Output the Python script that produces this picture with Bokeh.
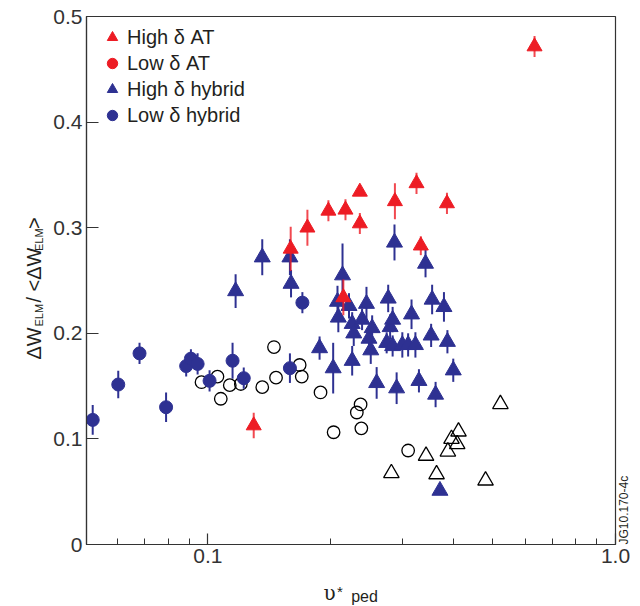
import math
from bokeh.plotting import figure
from bokeh.layouts import row, column
from bokeh.models import (ColumnDataSource, FixedTicker, Label, Legend,
                          LegendItem, LinearAxis, Range1d)
from bokeh.embed import file_html
from bokeh.resources import INLINE

# ---------------- data ----------------
# High delta AT (red triangles)
hi_at_x = [0.1296, 0.1597, 0.1755, 0.1976, 0.2176, 0.215, 0.236, 0.236,
           0.2877, 0.325, 0.333, 0.386, 0.633]
hi_at_y = [0.1127, 0.280, 0.300, 0.316, 0.317, 0.234, 0.334, 0.304,
           0.325, 0.342, 0.283, 0.323, 0.4716]
hi_at_err = [0.012, 0.021, 0.017, 0.010, 0.010, 0.017, 0.003, 0.010,
             0.017, 0.010, 0.009, 0.010, 0.010]

# Low delta AT (red circles) - no points shown in the chart
lo_at_x = [float("nan")]
lo_at_y = [float("nan")]

# High delta hybrid (blue triangles)
hi_hy_x = [0.117, 0.136, 0.159, 0.160, 0.188, 0.203, 0.208, 0.209, 0.214,
           0.222, 0.226, 0.228, 0.226, 0.239, 0.245, 0.2485, 0.251, 0.253,
           0.2595, 0.2746, 0.277, 0.280, 0.284, 0.284, 0.287, 0.2905, 0.300,
           0.310, 0.316, 0.323, 0.3295, 0.342, 0.353, 0.355, 0.362, 0.371,
           0.3795, 0.387, 0.400]
hi_hy_y = [0.240, 0.272, 0.272, 0.247, 0.186, 0.167, 0.230, 0.215, 0.255,
           0.226, 0.209, 0.200, 0.174, 0.213, 0.228, 0.195, 0.184, 0.205,
           0.153, 0.191, 0.233, 0.206, 0.213, 0.188, 0.286, 0.148, 0.189,
           0.189, 0.218, 0.189, 0.155, 0.266, 0.198, 0.232, 0.142, 0.051,
           0.225, 0.192, 0.165]
hi_hy_err = [0.016, 0.017, 0.017, 0.013, 0.011, 0.024, 0.015, 0.014, 0.030,
             0.012, 0.011, 0.012, 0.014, 0.010, 0.016, 0.012, 0.013, 0.012,
             0.015, 0.010, 0.013, 0.012, 0.012, 0.010, 0.017, 0.015, 0.012,
             0.011, 0.014, 0.012, 0.011, 0.013, 0.011, 0.014, 0.012, 0.0,
             0.014, 0.011, 0.011]

# Low delta hybrid (blue circles)
lo_hy_x = [0.0522, 0.0603, 0.068, 0.079, 0.0885, 0.0909, 0.0944, 0.101,
           0.115, 0.1225, 0.159, 0.1706]
lo_hy_y = [0.118, 0.1515, 0.181, 0.130, 0.169, 0.176, 0.171, 0.155,
           0.174, 0.1575, 0.167, 0.229]
lo_hy_err = [0.014, 0.013, 0.010, 0.014, 0.010, 0.009, 0.010, 0.010,
             0.017, 0.010, 0.014, 0.010]

# other data (open symbols)
open_c_x = [0.0965, 0.1056, 0.1076, 0.1132, 0.1205, 0.136, 0.1453, 0.147,
            0.168, 0.170, 0.189, 0.2035, 0.232, 0.237, 0.238, 0.31]
open_c_y = [0.1537, 0.159, 0.138, 0.1509, 0.152, 0.149, 0.187, 0.158,
            0.170, 0.159, 0.144, 0.1063, 0.125, 0.1326, 0.110, 0.089]
open_t_x = [0.282, 0.343, 0.364, 0.388, 0.396, 0.409, 0.412, 0.480, 0.522]
open_t_y = [0.0675, 0.084, 0.0665, 0.088, 0.100, 0.095, 0.107, 0.0606, 0.133]

y_ticks = [0, 0.1, 0.2, 0.3, 0.4, 0.5]
y_tick_labels = ["0", "0.1", "0.2", "0.3", "0.4", "0.5"]
x_ticks = [0.1, 1.0]
x_tick_labels = ["0.1", "1.0"]
x_minor = [0.06, 0.07, 0.08, 0.09, 0.2, 0.3, 0.4, 0.5, 0.6, 0.7, 0.8, 0.9]
figure_id = "JG10.170-4c"

RED = "#ED1C24"
BLUE = "#2E3192"
INK = "#231F20"
AX = "#333333"
FONT = "Liberation Sans"

W, H = 640, 606
LW = 44          # width of left strip (y title)
BH = 32          # height of bottom strip (x title)
MW, MH = W - LW, H - BH


def err_src(xs, ys, es):
    return ColumnDataSource(dict(x=xs, y=ys,
                                 lo=[y - e for y, e in zip(ys, es)],
                                 hi=[y + e for y, e in zip(ys, es)]))


# ---------------- main plot ----------------
p = figure(width=MW, height=MH, x_axis_type="log",
           x_range=Range1d(0.0504, 1.0), y_range=Range1d(0, 0.5),
           output_backend="svg", toolbar_location=None,
           min_border_left=86 - LW, min_border_right=25,
           min_border_top=16, min_border_bottom=MH - 544)
p.xgrid.visible = False
p.ygrid.visible = False
p.outline_line_color = AX
p.outline_line_width = 1.2
p.background_fill_color = "white"
p.border_fill_color = "white"

p.xaxis.ticker = FixedTicker(ticks=x_ticks, minor_ticks=x_minor)
p.xaxis.major_label_overrides = {t: l for t, l in zip(x_ticks, x_tick_labels)}
p.yaxis.ticker = FixedTicker(ticks=y_ticks, minor_ticks=[])
p.yaxis.major_label_overrides = {t: l for t, l in zip(y_ticks, y_tick_labels)}
for ax in (p.xaxis, p.yaxis):
    ax.axis_line_color = AX
    ax.axis_line_width = 1.2
    ax.major_tick_line_color = AX
    ax.major_tick_line_width = 1.2
    ax.minor_tick_line_color = AX
    ax.minor_tick_line_width = 1.0
    ax.major_tick_out = 0
    ax.minor_tick_out = 0
    ax.major_label_text_font = FONT
    ax.major_label_text_font_size = "21px"
    ax.major_label_text_color = AX
p.yaxis.major_tick_in = 12
p.xaxis.major_tick_in = 11
p.xaxis.minor_tick_in = 6
p.yaxis.major_label_standoff = 4
p.xaxis.major_label_standoff = 4

# figure id along the lower right edge: a bare right axis whose single
# tick label (at the bottom of the frame) reads upward
id_axis = LinearAxis(ticker=FixedTicker(ticks=[y_ticks[0]], minor_ticks=[]),
                     major_label_overrides={y_ticks[0]: figure_id},
                     major_label_orientation=math.pi / 2,
                     major_label_standoff=8,
                     major_label_text_font=FONT,
                     major_label_text_font_size="12px",
                     major_label_text_color=INK,
                     axis_line_color=None, major_tick_line_color=None,
                     minor_tick_line_color=None, major_tick_out=0,
                     minor_tick_out=0, major_tick_in=0, minor_tick_in=0)
p.add_layout(id_axis, "right")

# open symbols
p.scatter(open_c_x, open_c_y, marker="circle", size=12.5, fill_color=None,
          line_color="black", line_width=1.3)
p.scatter(open_t_x, open_t_y, marker="triangle", size=15.5, fill_color=None,
          line_color="black", line_width=1.3)

# hybrid
s_lh = err_src(lo_hy_x, lo_hy_y, lo_hy_err)
p.segment(x0="x", y0="lo", x1="x", y1="hi", source=s_lh, line_color=BLUE,
          line_width=2)
r_lh = p.scatter("x", "y", source=s_lh, marker="circle", size=13,
                 fill_color=BLUE, line_color=BLUE)
s_hh = err_src(hi_hy_x, hi_hy_y, hi_hy_err)
p.segment(x0="x", y0="lo", x1="x", y1="hi", source=s_hh, line_color=BLUE,
          line_width=2)
r_hh = p.scatter("x", "y", source=s_hh, marker="triangle", size=16,
                 fill_color=BLUE, line_color=BLUE)

# AT
s_ha = err_src(hi_at_x, hi_at_y, hi_at_err)
p.segment(x0="x", y0="lo", x1="x", y1="hi", source=s_ha, line_color=RED,
          line_width=2, line_alpha=0.8)
r_ha = p.scatter("x", "y", source=s_ha, marker="triangle", size=15,
                 fill_color=RED, line_color=RED)
r_la = p.scatter(lo_at_x, lo_at_y, marker="circle", size=12,
                 fill_color=RED, line_color=RED)

legend = Legend(items=[
    LegendItem(label="High \u03b4 AT", renderers=[r_ha]),
    LegendItem(label="Low \u03b4 AT", renderers=[r_la]),
    LegendItem(label="High \u03b4 hybrid", renderers=[r_hh]),
    LegendItem(label="Low \u03b4 hybrid", renderers=[r_lh]),
], location=(11, 416), padding=0, margin=0, spacing=0,
    glyph_width=30, glyph_height=26, label_height=20, label_standoff=0,
    label_text_font=FONT, label_text_font_size="20px",
    label_text_color=INK, background_fill_alpha=0, border_line_color=None)
p.add_layout(legend)


# ---------------- title strips ----------------
def strip(w, h, y_top, y_bottom):
    s = figure(width=w, height=h, x_range=Range1d(0, w),
               y_range=Range1d(y_bottom, y_top), x_axis_location=None,
               y_axis_location=None, output_backend="svg",
               toolbar_location=None, min_border=0)
    s.grid.visible = False
    s.outline_line_color = None
    s.background_fill_color = "white"
    s.border_fill_color = "white"
    return s


def lab(fig, text, x, y, size, angle=0.0, font=FONT):
    fig.add_layout(Label(x=x, y=y, text=text, angle=angle, text_font=font,
                         text_font_size=size, text_color=INK,
                         text_align="left", text_baseline="alphabetic"))


V = math.pi / 2
left = strip(LW, MH, 0, MH)
# y axis title: Delta W_ELM / <Delta W_ELM>
lab(left, "\u0394W", 33.5, 373, "20px", V)
lab(left, "ELM", 38.5, 337, "11px", V)
lab(left, "/", 33.5, 311, "20px", V)
lab(left, "<\u0394W", 33.5, 299, "20px", V)
lab(left, "ELM", 38.5, 255, "11px", V)
lab(left, ">", 33.5, 231, "20px", V)

bottom = strip(W, BH, MH, H)
# x axis title: nu*_ped
lab(bottom, "\u03c5", 323, 592, "20px", font="DejaVu Serif")
lab(bottom, "*", 336.5, 590.5, "15px")
lab(bottom, "ped", 350.7, 596, "16px")

layout = column(row(left, p, spacing=0), bottom, spacing=0)

open("out.html", "w").write(file_html(layout, INLINE))
